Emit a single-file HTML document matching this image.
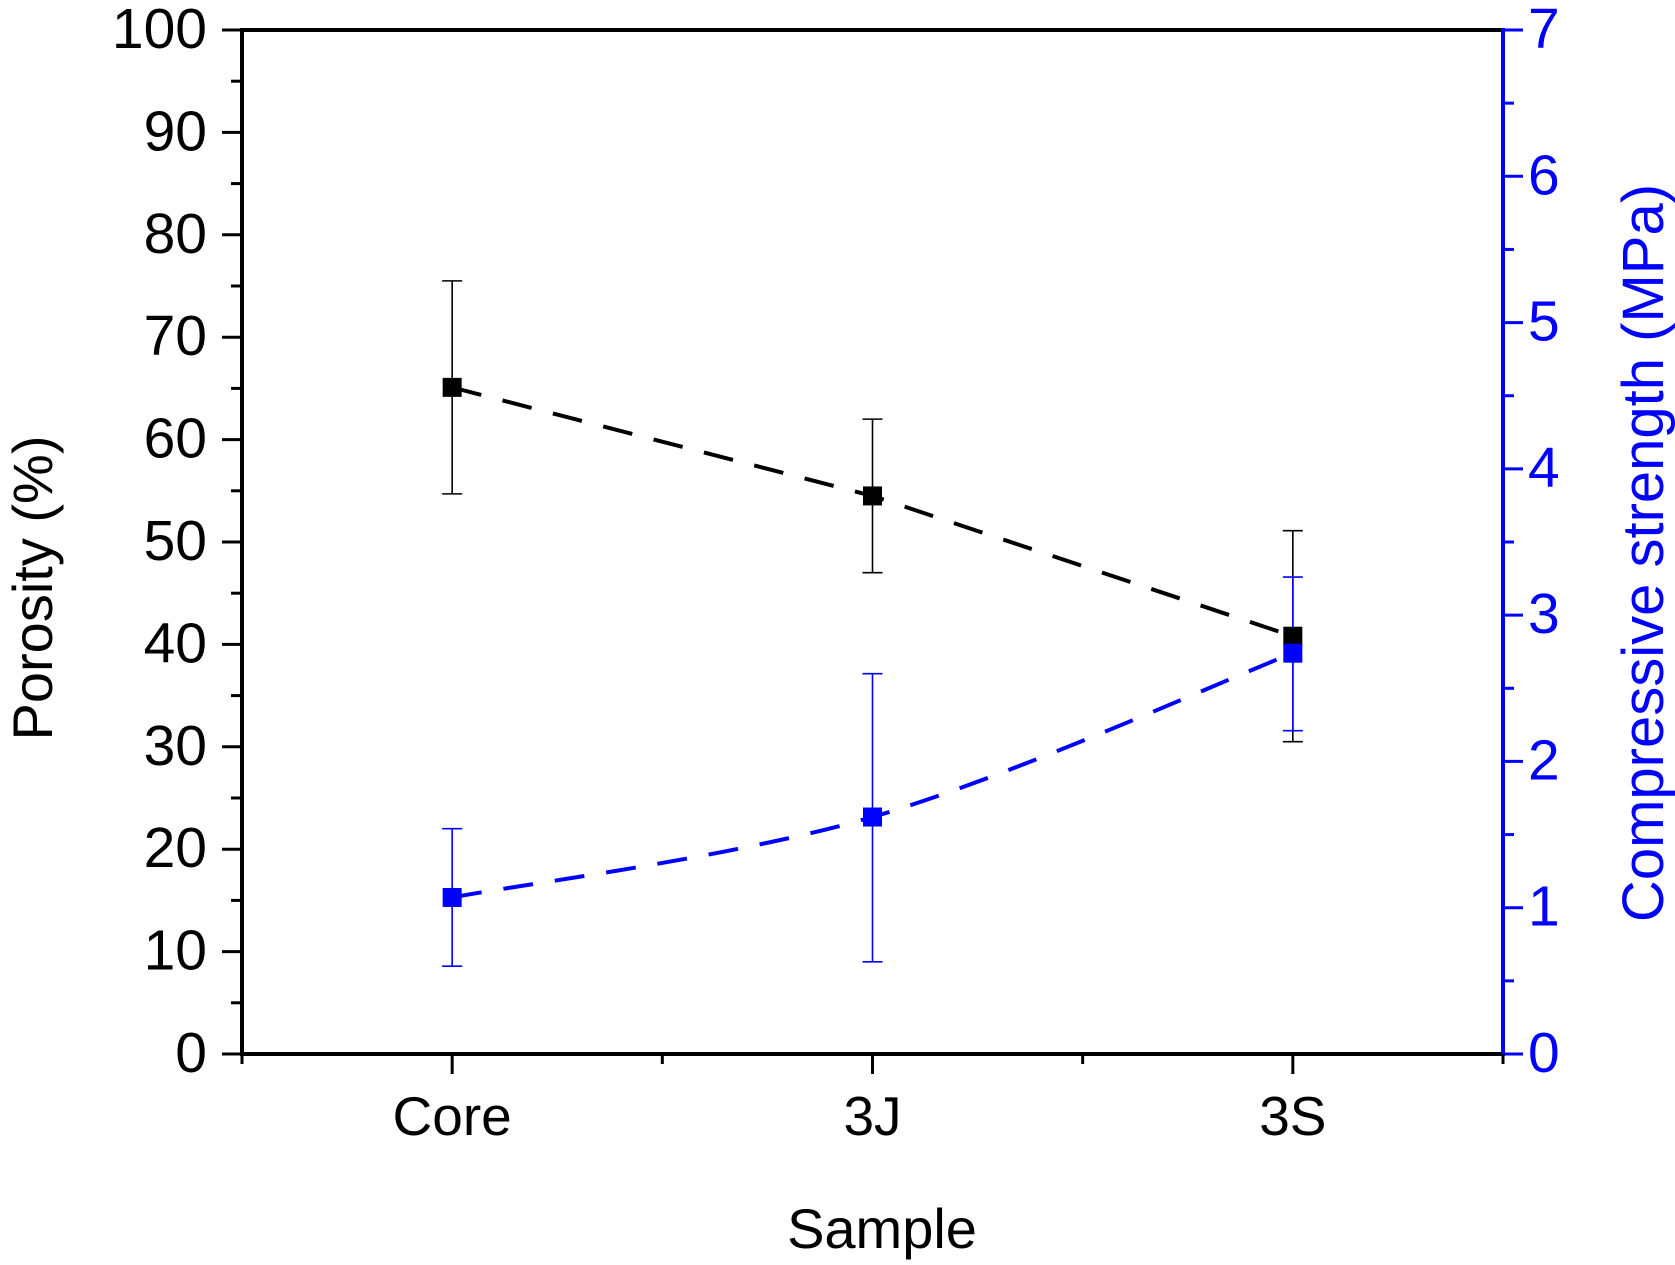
<!DOCTYPE html>
<html><head><meta charset="utf-8"><style>
html,body{margin:0;padding:0;background:#fff;}
svg{display:block;}
text{font-family:"Liberation Sans",sans-serif;}
</style></head><body>
<svg id="chart" width="1675" height="1265" viewBox="0 0 1675 1265" xmlns="http://www.w3.org/2000/svg"></svg>
<script>
const categories = ["Core","3J","3S"];
const porosity = [65.1, 54.5, 40.8];
const porosityLow = [54.7, 47.0, 30.5];
const porosityHigh = [75.5, 62.0, 51.1];
const strength = [1.07, 1.62, 2.74];
const strengthLow = [0.60, 0.63, 2.21];
const strengthHigh = [1.54, 2.60, 3.26];
const leftTicks = [0,10,20,30,40,50,60,70,80,90,100];
const rightTicks = [0,1,2,3,4,5,6,7];

const L=242, R=1503, T=30, B=1054;
const NS="http://www.w3.org/2000/svg";
const svg=document.getElementById('chart');
function xS(i){return L+(R-L)*(i+0.5)/categories.length;}
function yL(v){return B-(B-T)*v/100;}
function yR(v){return B-(B-T)*v/7;}
function el(tag,attrs,parent){const e=document.createElementNS(NS,tag);for(const k in attrs)e.setAttribute(k,attrs[k]);(parent||svg).appendChild(e);return e;}

let ax=el('line',{x1:L,y1:T,x2:R,y2:T,stroke:'#000','stroke-width':4});


ax=el('line',{x1:L,y1:B,x2:R,y2:B,stroke:'#000','stroke-width':4});


ax=el('line',{x1:L,y1:T-2,x2:L,y2:B+2,stroke:'#000','stroke-width':4});


ax=el('line',{x1:R,y1:T-2,x2:R,y2:B+2,stroke:'#0000ff','stroke-width':4});



leftTicks.forEach((v,i)=>{
  const y=yL(v);
  el('line',{x1:L-20,y1:y,x2:L,y2:y,stroke:'#000','stroke-width':3});
  const t=el('text',{x:L-35,y:y+18,'text-anchor':'end','font-size':57,fill:'#000'});
  t.textContent=v;
  
  
  if(i<leftTicks.length-1){const ym=yL(v+5);el('line',{x1:L-11,y1:ym,x2:L,y2:ym,stroke:'#000','stroke-width':3});}
});
rightTicks.forEach((v,i)=>{
  const y=yR(v);
  el('line',{x1:R,y1:y,x2:R+20,y2:y,stroke:'#0000ff','stroke-width':3});
  const t=el('text',{x:R+25,y:y+18,'text-anchor':'start','font-size':57,fill:'#0000ff'});
  t.textContent=v;
  
  
  if(i<rightTicks.length-1){const ym=yR(v+0.5);el('line',{x1:R,y1:ym,x2:R+11,y2:ym,stroke:'#0000ff','stroke-width':3});}
});
for(let i=0;i<categories.length;i++){
  const x=xS(i);
  el('line',{x1:x,y1:B,x2:x,y2:B+20,stroke:'#000','stroke-width':3});
  const t=el('text',{x:x,y:1135,'text-anchor':'middle','font-size':55,fill:'#000'});
  t.textContent=categories[i];
  
  
  if(i<categories.length-1){const xm=(x+xS(i+1))/2;el('line',{x1:xm,y1:B,x2:xm,y2:B+10,stroke:'#000','stroke-width':3});}
}
el('line',{x1:L,y1:B,x2:L,y2:B+10,stroke:'#000','stroke-width':3});
el('line',{x1:R,y1:B,x2:R,y2:B+10,stroke:'#000','stroke-width':3});

let tt=el('text',{x:882,y:1248,'text-anchor':'middle','font-size':56,fill:'#000'});
tt.textContent='Sample';


tt=el('text',{x:0,y:0,'text-anchor':'middle','font-size':56,fill:'#000',transform:'translate(52,588) rotate(-90)'});
tt.textContent='Porosity (%)';


tt=el('text',{x:0,y:0,'text-anchor':'middle','font-size':58,fill:'#0000ff',transform:'translate(1663,553) rotate(-90)'});
tt.textContent='Compressive strength (MPa)';



let d=porosity.map((v,i)=>(i?'L':'M')+xS(i)+','+yL(v)).join(' ');
let p=el('path',{d:d,fill:'none',stroke:'#000','stroke-width':4,'stroke-dasharray':'30 22'});


const pts=strength.map((v,i)=>[xS(i),yR(v)]);
d='M'+pts[0][0]+','+pts[0][1];
for(let i=0;i<pts.length-1;i++){
  const p0=pts[Math.max(i-1,0)],p1=pts[i],p2=pts[i+1],p3=pts[Math.min(i+2,pts.length-1)];
  const c1=[p1[0]+(p2[0]-p0[0])/6,p1[1]+(p2[1]-p0[1])/6];
  const c2=[p2[0]-(p3[0]-p1[0])/6,p2[1]-(p3[1]-p1[1])/6];
  d+=' C'+c1.join(',')+' '+c2.join(',')+' '+p2.join(',');
}
p=el('path',{d:d,fill:'none',stroke:'#0000ff','stroke-width':4,'stroke-dasharray':'30 22'});



function errBar(x,y1,y2,color,name){
  const g=el('g',{stroke:color,'stroke-width':1.6});
  
  
  el('line',{x1:x,y1:y1,x2:x,y2:y2},g);
  el('line',{x1:x-10,y1:y1,x2:x+10,y2:y1},g);
  el('line',{x1:x-10,y1:y2,x2:x+10,y2:y2},g);
}
porosity.forEach((v,i)=>errBar(xS(i),yL(porosityLow[i]),yL(porosityHigh[i]),'#000','porosity-error-bar'));
strength.forEach((v,i)=>errBar(xS(i),yR(strengthLow[i]),yR(strengthHigh[i]),'#0000ff','strength-error-bar'));
porosity.forEach((v,i)=>{
  const r=el('rect',{x:xS(i)-9.5,y:yL(v)-9.5,width:19,height:19,fill:'#000'});
  
  
});
strength.forEach((v,i)=>{
  const r=el('rect',{x:xS(i)-9.5,y:yR(v)-9.5,width:19,height:19,fill:'#0000ff'});
  
  
});
</script>
</body></html>
